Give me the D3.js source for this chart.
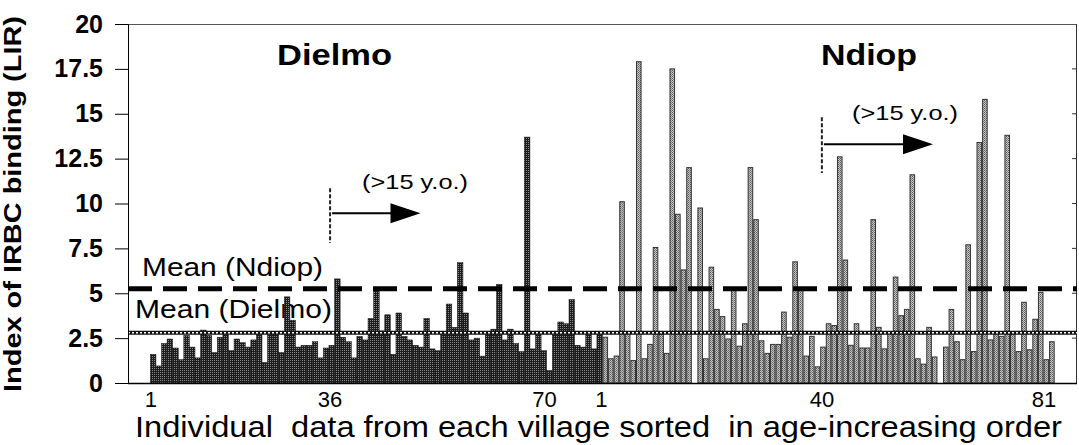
<!DOCTYPE html>
<html>
<head>
<meta charset="utf-8">
<script src="https://cdn.jsdelivr.net/npm/d3@7"></script>
<style>
  body { margin: 0; background: #fff; }
  svg text { font-family: "Liberation Sans", Arial, sans-serif; }
</style>
</head>
<body>
<svg id="chart" width="1079" height="445"></svg>
<script>
// IRBC binding index, one bar per individual, sorted by age
var dielmo = [1.6, 0.95, 2.2, 2.45, 1.95, 1.3, 2.65, 2.0, 1.4, 2.95,
    2.65, 1.7, 2.55, 2.7, 1.8, 2.45, 2.25, 2.0, 2.4, 2.7,
    1.15, 2.85, 2.8, 1.7, 4.8, 3.5, 2.0, 2.1, 2.1, 2.3,
    1.4, 1.95, 2.1, 5.8, 2.55, 2.3, 1.4, 2.6, 2.4, 3.6,
    5.3, 2.9, 3.8, 1.6, 3.9, 2.6, 2.4, 2.1, 2.0, 3.6,
    1.9, 1.8, 2.7, 4.4, 3.1, 6.7, 3.9, 2.4, 2.5, 1.5,
    2.85, 3.0, 5.5, 2.4, 3.0, 2.2, 1.75, 13.7, 1.9, 2.7,
    1.8, 0.7, 2.7, 3.4, 3.3, 4.65, 2.1, 2.0, 2.7, 1.9, 2.7];

var ndiop = [2.55, 1.35, 1.5, 10.1, 2.75, 1.25, 17.9, 1.35, 2.15, 7.55,
    2.7, 1.65, 17.5, 9.4, 6.3, 12.0, null, 9.75, 1.35, 6.45,
    4.1, 3.7, 2.45, 5.3, 2.05, 3.3, 12.0, 9.1, 2.35, 1.65,
    2.15, 2.15, 3.95, 2.55, 6.75, 5.2, 1.5, 2.6, 0.9, 2.0,
    3.3, 3.2, 12.6, 6.85, 2.1, 3.3, 1.95, 1.95, 9.1, 3.1,
    1.9, 2.85, 5.9, 3.75, 4.1, 11.6, 1.35, 1.05, 3.1, 1.45,
    null, 2.0, 4.1, 2.3, 1.3, 7.7, 1.75, 13.4, 15.8, 2.4,
    2.8, 2.6, 13.8, 2.7, 1.75, 4.5, 1.85, 3.55, 5.05, 1.3, 2.3];

var meanDielmo = 2.8;
var meanNdiop = 5.25;

var yTicks = [0, 2.5, 5, 7.5, 10, 12.5, 15, 17.5, 20];
var xTickLabels = ["1", "36", "70", "1", "40", "81"];
var xTickSlots = [4.1, 36.2, 74.6, 84.8, 124.3, 164.1];

// category slots: 4 empty, Dielmo, Ndiop, 4 empty
const nSlots = 4 + dielmo.length + ndiop.length + 4;
const dielmoStart = 4;
const ndiopStart = 4 + dielmo.length;

const svg = d3.select("#chart");
const plotL = 128, plotR = 1077, plotT = 24, plotB = 383;

var x = d3.scaleLinear().domain([0, nSlots]).range([plotL, plotR]);
var y = d3.scaleLinear().domain([0, 20]).range([plotB, plotT]);
const bw = x(1) - x(0);

// fill textures
const defs = svg.append("defs");
const pd = defs.append("pattern").attr("id", "darkTex")
    .attr("width", 2).attr("height", 2).attr("patternUnits", "userSpaceOnUse");
pd.append("rect").attr("width", 2).attr("height", 2).attr("fill", "#1c1c1c");
pd.append("rect").attr("width", 1).attr("height", 1).attr("fill", "#8a8a8a");
const pn = defs.append("pattern").attr("id", "lightTex")
    .attr("width", 2).attr("height", 2).attr("patternUnits", "userSpaceOnUse");
pn.append("rect").attr("width", 2).attr("height", 2).attr("fill", "#c4c4c4");
pn.append("rect").attr("width", 1).attr("height", 1).attr("fill", "#5e5e5e");
pn.append("rect").attr("x", 1).attr("y", 1).attr("width", 1).attr("height", 1).attr("fill", "#828282");

// frame
svg.append("line").attr("x1", plotL).attr("x2", plotR).attr("y1", plotT + 0.5).attr("y2", plotT + 0.5)
    .attr("stroke", "#555").attr("stroke-width", 1);
svg.append("line").attr("x1", plotR - 0.5).attr("x2", plotR - 0.5).attr("y1", plotT).attr("y2", plotB)
    .attr("stroke", "#333").attr("stroke-width", 1);
svg.append("g").selectAll("line").data(yTicks.slice(1, -1)).join("line")
    .attr("x1", plotR - 5).attr("x2", plotR).attr("y1", d => y(d)).attr("y2", d => y(d))
    .attr("stroke", "#333");

// Mean (Dielmo) label sits in a white box under the bars
svg.append("rect").attr("x", 132).attr("y", 298).attr("width", 203).attr("height", 29).attr("fill", "#fff");
svg.append("text").attr("x", 135).attr("y", 318).attr("font-size", 25)
    .attr("textLength", 197).attr("lengthAdjust", "spacingAndGlyphs").text("Mean (Dielmo)");
svg.append("text").attr("x", 142).attr("y", 276).attr("font-size", 25)
    .attr("textLength", 181).attr("lengthAdjust", "spacingAndGlyphs").text("Mean (Ndiop)");

// bars
svg.append("g").selectAll("rect").data(dielmo).join("rect")
    .attr("x", (d, i) => x(dielmoStart + i))
    .attr("width", bw)
    .attr("y", d => y(d))
    .attr("height", d => y(0) - y(d))
    .attr("fill", "url(#darkTex)")
    .attr("stroke", "#111").attr("stroke-width", 0.5);

svg.append("g").selectAll("rect").data(ndiop.map((v, j) => ({v: v, j: j})).filter(d => d.v != null)).join("rect")
    .attr("x", d => x(ndiopStart + d.j) + 0.5)
    .attr("width", bw - 1)
    .attr("y", d => y(d.v))
    .attr("height", d => y(0) - y(d.v))
    .attr("fill", "url(#lightTex)")
    .attr("stroke", "#333").attr("stroke-width", 1);

// mean lines
svg.append("line").attr("x1", plotL).attr("x2", plotR).attr("y1", y(meanNdiop)).attr("y2", y(meanNdiop))
    .attr("stroke", "#000").attr("stroke-width", 5).attr("stroke-dasharray", "24,11");
svg.append("line").attr("x1", plotL).attr("x2", plotR).attr("y1", y(meanDielmo)).attr("y2", y(meanDielmo))
    .attr("stroke", "#111").attr("stroke-width", 4);
svg.append("line").attr("x1", plotL).attr("x2", plotR).attr("y1", y(meanDielmo)).attr("y2", y(meanDielmo))
    .attr("stroke", "#fff").attr("stroke-width", 1.6).attr("stroke-dasharray", "2,2");

// axes
const yAxis = svg.append("g").attr("transform", `translate(${plotL},0)`)
    .call(d3.axisLeft(y).tickValues(yTicks).tickSize(13).tickPadding(12).tickFormat(d => d));
yAxis.select(".domain").attr("stroke", "#000");
yAxis.selectAll("text").attr("font-size", 25).attr("font-weight", "bold")
    .attr("font-family", "'Liberation Sans', Arial, sans-serif");

svg.append("line").attr("x1", plotL).attr("x2", plotR).attr("y1", plotB + 0.5).attr("y2", plotB + 0.5)
    .attr("stroke", "#000").attr("stroke-width", 1.5);

svg.append("g").selectAll("text").data(xTickLabels).join("text")
    .attr("x", (d, i) => x(xTickSlots[i]))
    .attr("y", 407)
    .attr("text-anchor", "middle")
    .attr("font-size", 22)
    .text(d => d);

// axis titles
svg.append("text").attr("transform", "translate(21,204) rotate(-90)")
    .attr("text-anchor", "middle").attr("font-size", 23).attr("font-weight", "bold")
    .attr("textLength", 376).attr("lengthAdjust", "spacingAndGlyphs")
    .text("Index of IRBC binding (LIR)");
svg.append("text").attr("x", 135).attr("y", 437).attr("font-size", 29)
    .attr("xml:space", "preserve").style("white-space", "pre")
    .attr("textLength", 927).attr("lengthAdjust", "spacingAndGlyphs")
    .text("Individual  data from each village sorted  in age-increasing order");

// village names
svg.append("text").attr("x", 277).attr("y", 65).attr("font-size", 30).attr("font-weight", "bold")
    .attr("textLength", 115).attr("lengthAdjust", "spacingAndGlyphs").text("Dielmo");
svg.append("text").attr("x", 821).attr("y", 65).attr("font-size", 30).attr("font-weight", "bold")
    .attr("textLength", 96).attr("lengthAdjust", "spacingAndGlyphs").text("Ndiop");

// ">15 y.o." markers: dashed start line + arrow
const markers = [
    {slot: xTickSlots[1], v: 9.45, hi: 10.85, low: 7.8, end: 52.4, tx: 362, ty: 189},
    {slot: xTickSlots[4], v: 13.3, hi: 14.8, low: 11.7, end: 144.2, tx: 852, ty: 120}
];
markers.forEach(m => {
    svg.append("line").attr("x1", x(m.slot)).attr("x2", x(m.slot))
        .attr("y1", y(m.hi)).attr("y2", y(m.low))
        .attr("stroke", "#222").attr("stroke-width", 2).attr("stroke-dasharray", "4,2");
    const xe = x(m.end), ya = y(m.v);
    svg.append("line").attr("x1", x(m.slot) + 2).attr("x2", xe - 28)
        .attr("y1", ya).attr("y2", ya).attr("stroke", "#000").attr("stroke-width", 2);
    svg.append("path").attr("d", `M${xe - 30},${ya - 10}L${xe},${ya}L${xe - 30},${ya + 10}Z`)
        .attr("fill", "#000");
    svg.append("text").attr("x", m.tx).attr("y", m.ty).attr("font-size", 21)
        .attr("textLength", 106).attr("lengthAdjust", "spacingAndGlyphs").text("(>15 y.o.)");
});
</script>
</body>
</html>
